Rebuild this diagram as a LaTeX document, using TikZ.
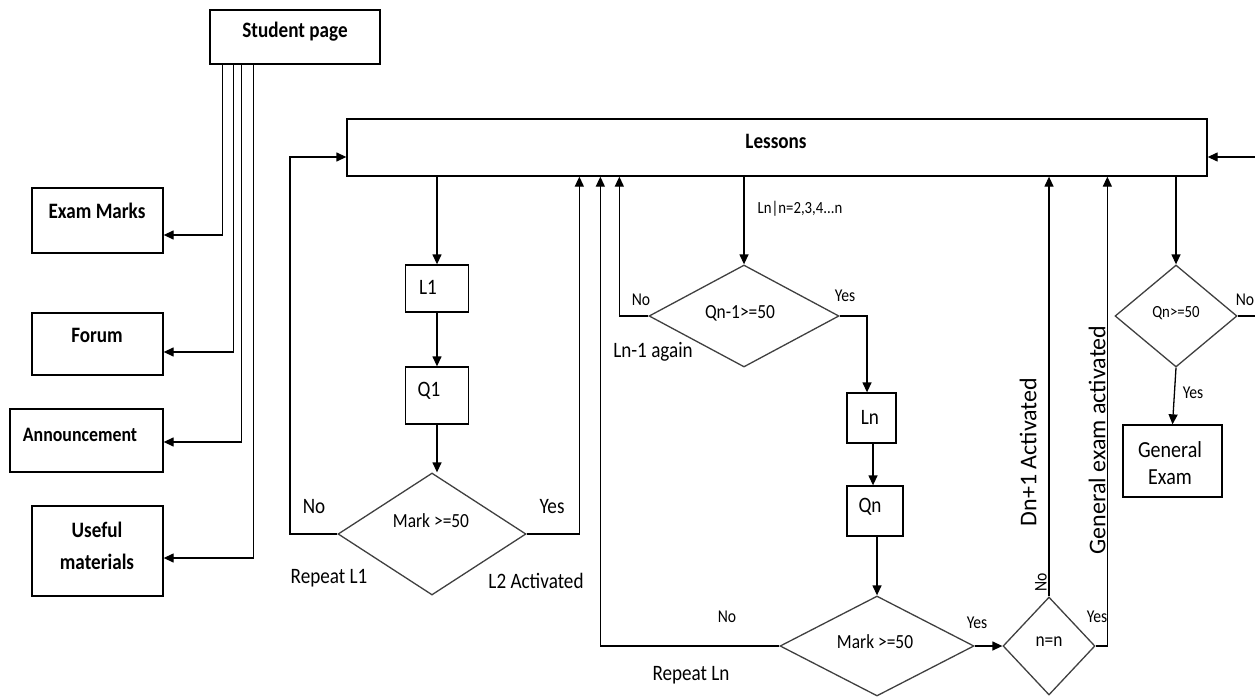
\documentclass[tikz,border=0pt]{standalone}
\usepackage{fontspec}
\setmainfont{Carlito}[FakeStretch=0.87]
\newfontfamily\rotfont{Carlito}
\usetikzlibrary{arrows.meta,shapes.geometric,calc}
\tikzset{
  box/.style={draw=black, line width=1.3pt, rectangle, inner sep=0pt},
  dia/.style={draw=black!75, line width=1.3pt, diamond, inner sep=0pt},
  arr/.style={draw=black, line width=1.3pt, -{Triangle[length=10pt,width=9pt]}},
  ln/.style={draw=black, line width=1.3pt},
  tb/.style={font=\fontsize{22}{26}\selectfont\bfseries, inner sep=0pt, align=center},
  tr/.style={font=\fontsize{22}{26}\selectfont, inner sep=0pt, align=center},
  tm/.style={font=\fontsize{20}{24}\selectfont, inner sep=0pt},
  ts/.style={font=\fontsize{18}{22}\selectfont, inner sep=0pt},
  tx/.style={font=\fontsize{17}{20}\selectfont, inner sep=0pt},
  trot/.style={font=\rotfont\fontsize{24}{28}\selectfont, inner sep=0pt, rotate=90},
}
\begin{document}
\begin{tikzpicture}[x=1pt,y=-1pt]
\useasboundingbox[fill=white] (0,0) rectangle (1255,698);
% boxes
\node[box, minimum width=170pt, minimum height=54pt] (sp) at (295,37) {};
\node[tb] (spt) at (295,32) {Student page};
\node[box, minimum width=131pt, minimum height=65pt] (em) at (97.5,220.5) {};
\node[tb] (emt) at (97,211) {Exam Marks};
\node[box, minimum width=131pt, minimum height=62pt] (fo) at (97.5,344) {};
\node[tb] (fot) at (97,335) {Forum};
\node[box, minimum width=153pt, minimum height=63pt] (an) at (86.5,440.5) {};
\node[tb, font=\fontsize{20.5}{24}\selectfont\bfseries] (ant) at (80,435) {Announcement};
\node[box, minimum width=131pt, minimum height=90pt] (um) at (97.5,551) {};
\node[tb, font=\fontsize{22}{32}\selectfont\bfseries] (umt) at (97,546) {Useful\\materials};
\node[box, minimum width=860pt, minimum height=57pt] (les) at (777,147.5) {};
\node[tb] (lest) at (776,141) {Lessons};
\node[box, minimum width=63pt, minimum height=47pt] (L1) at (437,288.5) {};
\node[tr] (L1t) at (428,287) {L1};
\node[box, minimum width=63pt, minimum height=57pt] (Q1) at (437,395.5) {};
\node[tr] (Q1t) at (429,391) {Q1};
\node[box, minimum width=49pt, minimum height=50pt] (Ln) at (871.5,418) {};
\node[tr] (Lnt) at (870,417) {Ln};
\node[box, minimum width=56pt, minimum height=50pt] (Qn) at (875,511) {};
\node[tr] (Qnt) at (870,507) {Qn};
\node[box, minimum width=99pt, minimum height=72pt] (ge) at (1172.5,461) {};
\node[tr, font=\fontsize{23}{27}\selectfont] (get) at (1170,463) {General\\Exam};
% diamonds
\node[dia, minimum width=188pt, minimum height=122pt] (d1) at (432,534) {};
\node[tm] (d1t) at (431,521) {Mark >=50};
\node[dia, minimum width=190pt, minimum height=102pt] (d2) at (744,316) {};
\node[tm] (d2t) at (740,313) {Qn-1>=50};
\node[dia, minimum width=194pt, minimum height=100pt] (d3) at (877,646) {};
\node[tm] (d3t) at (875,642) {Mark >=50};
\node[dia, minimum width=92pt, minimum height=98pt] (d4) at (1049,646) {};
\node[tm] (d4t) at (1049,642) {n=n};
\node[dia, minimum width=122pt, minimum height=102pt] (d5) at (1176,316) {};
\node[tx] (d5t) at (1176,313) {Qn>=50};
% student page connectors
\draw[arr] ([xshift=13pt]sp.south west) |- ([yshift=-14.5pt]em.east);
\draw[arr] ([xshift=24pt]sp.south west) |- ([yshift=-8pt]fo.east);
\draw[arr] ([xshift=32pt]sp.south west) |- ([yshift=-1.5pt]an.east);
\draw[arr] ([xshift=44pt]sp.south west) |- ([yshift=-7pt]um.east);
% left column
\draw[arr] (L1.north |- les.south) -- (L1.north);
\draw[arr] (L1.south) -- (Q1.north);
\draw[arr] (Q1.south) -- (Q1.south |- d1.north);
\coordinate (lp) at (290,157);
\draw[arr] (d1.west) -| (lp) -- ([yshift=-9.5pt]les.west);
\draw[arr] (d1.east) -| ([xshift=233pt]les.south west);
% middle
\draw[arr] (d2.north |- les.south) -- (d2.north);
\draw[arr] (d2.west) -| ([xshift=273pt]les.south west);
\draw[arr] (d2.east) -| ([xshift=-4.5pt]Ln.north);
\draw[arr] ([xshift=1.5pt]Ln.south) -- ([xshift=1.5pt]Ln.south |- Qn.north);
\draw[arr] (Qn.south -| d3.north) -- (d3.north);
\draw[arr] (d3.west) -| ([xshift=254pt]les.south west);
\draw[arr] (d3.east) -- (d4.west);
\draw[arr] (d4.north) -- (d4.north |- les.south);
\draw[arr] (d4.east) -| ([xshift=761pt]les.south west);
% right
\draw[arr] (d5.north |- les.south) -- (d5.north);
\coordinate (re1) at (1255,316);
\draw[ln] (d5.east) -- (re1);
\coordinate (re2) at (1255,157);
\draw[arr] (re2) -- ([yshift=-9.5pt]les.east);
\draw[arr] (d5.south) -- (ge.north);
% labels
\node[tr] (l1) at (314,507) {No};
\node[tr] (l2) at (552,507) {Yes};
\node[tr] (l3) at (329,578) {Repeat L1};
\node[tr] (l4) at (536,581) {L2 Activated};
\node[tx] (l5) at (800,209) {Ln|n=2,3,4...n};
\node[ts] (l6) at (641,300) {No};
\node[ts] (l7) at (845,296) {Yes};
\node[tr] (l8) at (653,352) {Ln-1 again};
\node[ts] (l9) at (727,617) {No};
\node[tr] (l10) at (691,675) {Repeat Ln};
\node[ts] (l11) at (977,623) {Yes};
\node[ts, rotate=90] (l12) at (1041,582) {No};
\node[ts] (l13) at (1097,617) {Yes};
\node[trot] (l14) at (1028,452) {Dn+1 Activated};
\node[trot] (l15) at (1097,440) {General exam activated};
\node[ts] (l16) at (1245,300) {No};
\node[ts] (l17) at (1193,393) {Yes};
\end{tikzpicture}
\end{document}
